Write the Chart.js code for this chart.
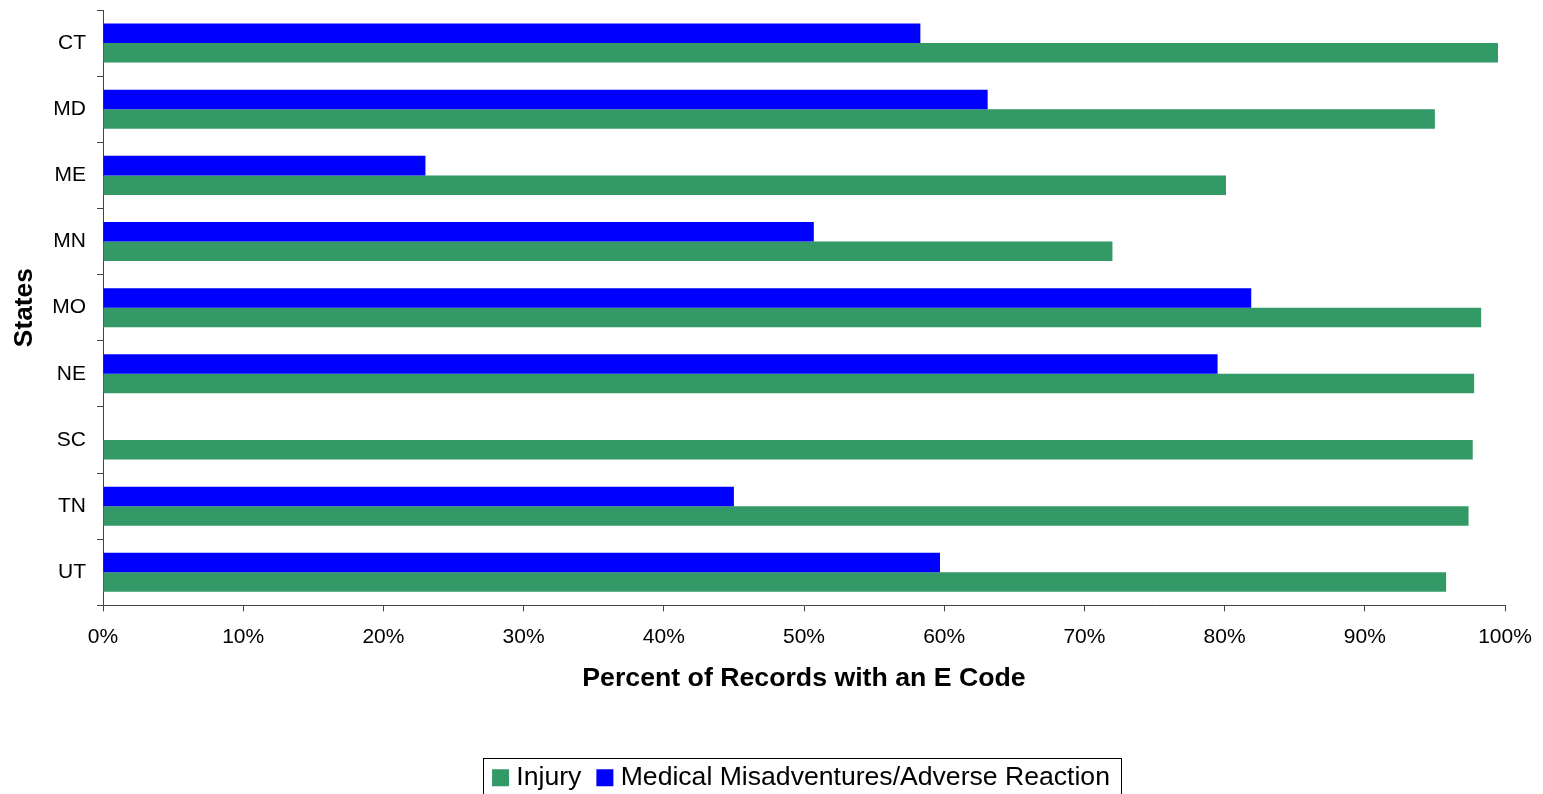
<!DOCTYPE html>
<html>
<head>
<meta charset="utf-8">
<script src="https://cdn.jsdelivr.net/npm/chart.js@4"></script>
<style>
  html, body { margin: 0; padding: 0; background: #fff; }
  #wrap { width: 1543px; height: 794px; }
</style>
</head>
<body>
<div id="wrap"><canvas id="myChart" width="1543" height="794"></canvas></div>
<script>
var states = ["CT", "MD", "ME", "MN", "MO", "NE", "SC", "TN", "UT"];
var injury = [99.5, 95.0, 80.1, 72.0, 98.3, 97.8, 97.7, 97.4, 95.8];
var medical = [58.3, 63.1, 23.0, 50.7, 81.9, 79.5, null, 45.0, 59.7];
var xTicks = [0, 10, 20, 30, 40, 50, 60, 70, 80, 90, 100];

// box round the legend, like the original
var legendBox = {
    id: 'legendBox',
    afterDraw: function (chart) {
        var lg = chart.legend;
        if (!lg || !lg.legendHitBoxes.length) return;
        var hb = lg.legendHitBoxes;
        var first = hb[0], last = hb[hb.length - 1];
        var ctx = chart.ctx;
        ctx.save();
        ctx.strokeStyle = "#000";
        ctx.lineWidth = 1;
        var l = Math.round(first.left - 15) + 0.5;
        var r = Math.round(last.left + last.width + 11) + 0.5;
        var t = Math.round(first.top + first.height / 2 - 20) + 0.5;
        ctx.strokeRect(l, t, r - l, 60);
        ctx.restore();
    }
};

Chart.defaults.font.family = "'Liberation Sans', Arial, sans-serif";
Chart.defaults.color = "#000";

new Chart("myChart", {
    type: "bar",
    data: {
        labels: states,
        datasets: [{
            label: "Medical Misadventures/Adverse Reaction",
            data: medical,
            backgroundColor: "#0000FF",
            borderWidth: 0,
            categoryPercentage: 0.59,
            barPercentage: 1.0
        }, {
            label: "Injury",
            data: injury,
            backgroundColor: "#339966",
            borderWidth: 0,
            categoryPercentage: 0.59,
            barPercentage: 1.0
        }]
    },
    options: {
        indexAxis: 'y',
        responsive: false,
        animation: false,
        layout: {
            padding: { left: 0, right: 38, top: 10, bottom: -7 }
        },
        plugins: {
            legend: {
                position: 'bottom',
                fullSize: false,
                reverse: true,
                labels: {
                    usePointStyle: true,
                    pointStyle: 'rect',
                    boxWidth: 5,
                    boxHeight: 17,
                    padding: 21,
                    color: "#000",
                    font: { size: 26.6 }
                }
            },
            tooltip: { enabled: false }
        },
        scales: {
            x: {
                min: 0,
                max: 100,
                afterBuildTicks: function (scale) {
                    scale.ticks = xTicks.map(function (v) { return { value: v }; });
                },
                afterFit: function (scale) {
                    scale.height = 138;
                    scale.paddingRight = 0;
                },
                border: { color: "#444", width: 1 },
                grid: {
                    drawOnChartArea: false,
                    drawTicks: true,
                    tickLength: 6,
                    color: "#444"
                },
                ticks: {
                    padding: 13,
                    font: { size: 21 },
                    callback: function (v) { return v + "%"; }
                },
                title: {
                    display: true,
                    text: "Percent of Records with an E Code",
                    font: { size: 26.7, weight: 'bold' },
                    padding: { top: 0, bottom: 49 }
                }
            },
            y: {
                afterFit: function (scale) {
                    scale.width = 103;
                    scale.paddingTop = 0;
                    scale.paddingBottom = 0;
                },
                border: { color: "#444", width: 1 },
                grid: {
                    drawOnChartArea: false,
                    drawTicks: true,
                    tickLength: 6,
                    offset: true,
                    color: "#444"
                },
                ticks: {
                    padding: 11,
                    font: { size: 21 }
                },
                title: {
                    display: true,
                    text: "States",
                    font: { size: 26.3, weight: 'bold' },
                    padding: { top: 9, bottom: 0 }
                }
            }
        }
    },
    plugins: [legendBox]
});
</script>
</body>
</html>
